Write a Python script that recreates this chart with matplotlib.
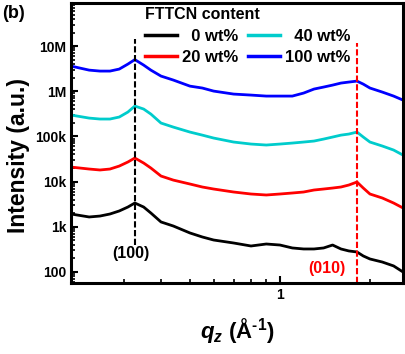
import matplotlib
matplotlib.use("Agg")
import matplotlib.pyplot as plt
from matplotlib.ticker import FixedLocator, LogLocator, NullFormatter, FixedFormatter

plt.rcParams['font.family'] = ['Liberation Sans', 'DejaVu Sans']
plt.rcParams['font.weight'] = 'bold'
plt.rcParams['mathtext.fontset'] = 'custom'
plt.rcParams['mathtext.rm'] = 'Liberation Sans:bold'
plt.rcParams['mathtext.it'] = 'Liberation Sans:bold:italic'
plt.rcParams['mathtext.bf'] = 'Liberation Sans:bold'

# data
q = [0.2, 0.23, 0.25, 0.27, 0.29, 0.31, 0.327, 0.35, 0.37, 0.4, 0.44, 0.5, 0.55,
     0.6, 0.7, 0.8, 0.9, 1.0, 1.1, 1.2, 1.3, 1.4, 1.5, 1.6, 1.7, 1.81, 1.9, 2.0,
     2.2, 2.4, 2.58]
i_0 = [1920, 1650, 1730, 1920, 2240, 2740, 3360, 2740, 2020, 1280, 1040, 730, 595,
       510, 438, 376, 416, 395, 340, 323, 323, 340, 395, 323, 292, 277, 226, 194,
       166, 136, 100]
i_20 = [2.10e4, 1.90e4, 1.81e4, 1.90e4, 2.21e4, 2.72e4, 3.33e4, 2.58e4, 2.0e4,
        1.33e4, 1.08e4, 8850, 7600, 6860, 5890, 5320, 5060, 5320, 5600, 5890,
        6520, 6860, 7210, 7600, 8410, 9800, 7210, 5320, 4340, 3360, 2610]
i_40 = [2.98e5, 2.55e5, 2.43e5, 2.43e5, 2.69e5, 3.47e5, 4.71e5, 4.04e5, 3.13e5,
        1.98e5, 1.61e5, 1.25e5, 1.07e5, 9.22e4, 7.52e4, 6.79e4, 6.46e4, 6.79e4,
        7.14e4, 7.52e4, 7.91e4, 8.75e4, 9.70e4, 1.07e5, 1.13e5, 1.25e5, 9.70e4,
        7.52e4, 6.14e4, 5.0e4, 3.87e4]
i_100 = [3.61e6, 2.94e6, 2.80e6, 2.80e6, 3.10e6, 4.0e6, 5.02e6, 3.80e6, 2.94e6,
         2.17e6, 1.77e6, 1.30e6, 1.18e6, 1.01e6, 8.67e5, 8.24e5, 7.83e5, 7.83e5,
         7.83e5, 9.13e5, 1.12e6, 1.24e6, 1.37e6, 1.52e6, 1.60e6, 1.68e6, 1.44e6,
         1.18e6, 9.6e5, 7.83e5, 6.38e5]
labels = ['  0 wt%', '20 wt%', '  40 wt%', '100 wt%']
colors = ['black', 'red', '#00CCCC', '#0000FF']

peak_q = [0.327, 1.81]
peak_names = ['(100)', '(010)']
peak_colors = ['black', 'red']
peak_top = [1.43e7, 1.2e7]
peak_bottom = [395, 57]
peak_label_q = [0.317, 1.43]
peak_label_i = [250, 122]

ytick_vals = [1e2, 1e3, 1e4, 1e5, 1e6, 1e7]
ytick_labels = ['100', '1k', '10k', '100k', '1M', '10M']

fig = plt.figure(figsize=(4.06, 3.54), dpi=100)
ax = fig.add_axes([71/406, 1 - 283/354, 332/406, 280/354])

for y, lab, c in zip([i_0, i_20, i_40, i_100], labels, colors):
    ax.plot(q, y, color=c, lw=2, label=lab)

for xq, top, bot, c in zip(peak_q, peak_top, peak_bottom, peak_colors):
    ax.plot([xq, xq], [bot, top], color=c, lw=1.5, ls=(0, (3, 1.2)))

for name, xq, yi, c in zip(peak_names, peak_label_q, peak_label_i, peak_colors):
    ax.text(xq, yi, name, color=c, fontsize=11.5, ha='center', va='center')

ax.set_xscale('log')
ax.set_yscale('log')
ax.set_xlim(0.2, 2.58)
ax.set_ylim(57, 9e7)

ax.xaxis.set_major_locator(FixedLocator([1]))
ax.xaxis.set_major_formatter(FixedFormatter(['1']))
ax.xaxis.set_minor_locator(LogLocator(base=10, subs=range(2, 10)))
ax.xaxis.set_minor_formatter(NullFormatter())
ax.yaxis.set_major_locator(FixedLocator(ytick_vals))
ax.yaxis.set_major_formatter(FixedFormatter(ytick_labels))
ax.yaxis.set_minor_locator(LogLocator(base=10, subs=range(2, 10), numticks=20))
ax.yaxis.set_minor_formatter(NullFormatter())

ax.tick_params(which='both', direction='in', top=False, right=False, labelsize=10)
ax.tick_params(which='major', length=5, width=1.5)
ax.tick_params(which='minor', length=3, width=1.2)
for s in ax.spines.values():
    s.set_linewidth(2.2)

ax.set_xlabel('$q_z$ (Å$^{\u20101}$)', fontsize=16, fontweight='bold', labelpad=10)
ax.set_ylabel('Intensity (a.u.)', fontsize=16.5, fontweight='bold')
ax.yaxis.set_label_coords(-0.122, 0.457)

leg = ax.legend(ncol=2, title='FTTCN content', frameon=False, loc='upper left',
                bbox_to_anchor=(0.194, 1.02), fontsize=12, title_fontsize=11.5,
                handlelength=1.9, handletextpad=0.3, columnspacing=0.6,
                labelspacing=0.37, borderpad=0.1, alignment='left')
leg.get_title().set_fontweight('bold')
for h in leg.get_lines():
    h.set_linewidth(2.5)

fig.text(0.005, 0.985, '(b)', fontsize=13, fontweight='bold', va='top', ha='left')

fig.savefig('out.png', dpi=100)
